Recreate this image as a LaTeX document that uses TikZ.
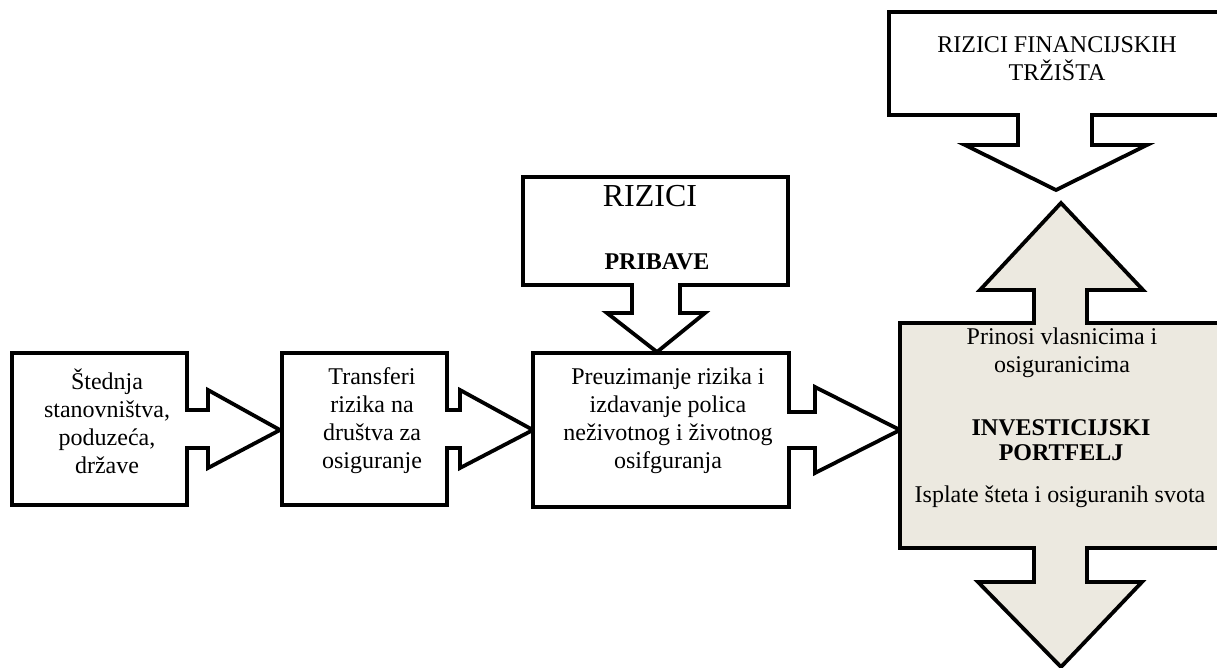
\documentclass[tikz,border=0pt]{standalone}
\usepackage{fontspec}
\setmainfont{Liberation Serif}
\definecolor{portfeljfill}{RGB}{236,233,224}

\begin{document}
\begin{tikzpicture}[x=0.5pt,y=0.5pt,yscale=-1,xscale=1,
    callout/.style={draw, line width=1.9pt, fill=white},
    txt/.style={inner sep=0.75pt, align=center, font=\fontsize{12}{14}\selectfont}]
      \clip (0,0) rectangle (1217,668);

      %Shape: Callout [id:stednja]
      \draw [callout] (12,353) -- (187,353) -- (187,410) -- (208,410) -- (208,390) -- (280,430) -- (208,468) -- (208,448) -- (187,448) -- (187,505) -- (12,505) -- cycle ;
      %Shape: Callout [id:transferi]
      \draw [callout] (282,353) -- (447,353) -- (447,410) -- (460,410) -- (460,390) -- (533,430) -- (460,468) -- (460,448) -- (447,448) -- (447,505) -- (282,505) -- cycle ;
      %Shape: Callout [id:preuzimanje]
      \draw [callout] (533,353) -- (789,353) -- (789,412) -- (815,412) -- (815,387) -- (900,430) -- (815,473) -- (815,448) -- (789,448) -- (789,507) -- (533,507) -- cycle ;
      %Shape: Callout [id:pribave]
      \draw [callout] (523,177) -- (788,177) -- (788,285) -- (680,285) -- (680,313) -- (705,313) -- (657,352) -- (607,313) -- (632,313) -- (632,285) -- (523,285) -- cycle ;
      %Shape: Callout [id:trzista]
      \draw [callout] (889,12) -- (1230,12) -- (1230,115) -- (1092,115) -- (1092,145) -- (1147,145) -- (1056,190) -- (965,145) -- (1018,145) -- (1018,115) -- (889,115) -- cycle ;
      %Shape: Callout [id:portfelj]
      \draw [callout, fill=portfeljfill] (900,323) -- (1034,323) -- (1034,290) -- (980,290) -- (1061,203) -- (1143,290) -- (1087,290) -- (1087,323) -- (1230,323) -- (1230,548) -- (1087,548) -- (1087,582) -- (1142,582) -- (1061,667) -- (978,582) -- (1034,582) -- (1034,548) -- (900,548) -- cycle ;

      % Text Node
      \node [txt] (stednjaT) at (107,421) {Štednja\\stanovništva,\\poduzeća,\\države};
      % Text Node
      \node [txt] (transferiT) at (372,421) {Transferi\\rizika na\\društva za\\osiguranje};
      % Text Node
      \node [txt] (preuzimanjeT) at (668,421) {Preuzimanje rizika i\\izdavanje polica\\neživotnog i životnog\\osifguranja};
      % Text Node
      \node [txt, font=\fontsize{16}{18}\selectfont] (riziciT) at (650,196) {RIZICI};
      % Text Node
      \node [txt, font=\fontsize{12}{14}\selectfont\bfseries] (pribaveT) at (657,262) {PRIBAVE};
      % Text Node
      \node [txt] (trzistaT) at (1057,59) {RIZICI FINANCIJSKIH\\TRŽIŠTA};
      % Text Node
      \node [txt] (prinosiT) at (1062,353) {Prinosi vlasnicima i\\osiguranicima};
      % Text Node
      \node [txt, font=\fontsize{12}{12.5}\selectfont\bfseries] (portfeljT) at (1061,440) {INVESTICIJSKI\\PORTFELJ};
      % Text Node
      \node [txt] (isplateT) at (1060,497) {Isplate šteta i osiguranih svota};

\end{tikzpicture}
\end{document}
